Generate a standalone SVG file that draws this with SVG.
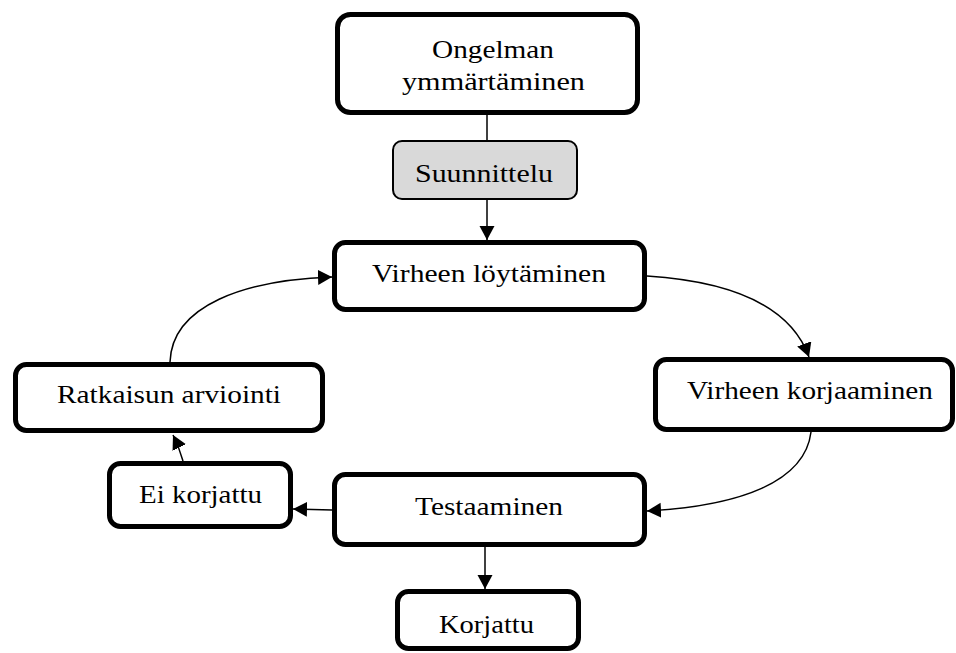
<svg xmlns="http://www.w3.org/2000/svg" width="956" height="653" viewBox="0 0 956 653">
<style>
.box{fill:#fff;stroke:#000;stroke-width:5}
.sub{fill:#d9d9d9;stroke:#000;stroke-width:2}
.t{font-family:"Liberation Serif","Times New Roman",serif;font-size:26px;fill:#000;text-anchor:middle}
.c{fill:none;stroke:#000;stroke-width:1.5}
</style>
<defs>
<marker id="ah" markerUnits="userSpaceOnUse" markerWidth="16" markerHeight="16" refX="14" refY="7.5" orient="auto">
<path d="M0,0 L14,7.5 L0,15 z" fill="#000"/>
</marker>
</defs>
<rect width="956" height="653" fill="#fff"/>
<g id="connectors">
<line class="c" x1="487" y1="115" x2="487" y2="140"/>
<line class="c" x1="487" y1="200" x2="487" y2="240" marker-end="url(#ah)"/>
<path class="c" d="M647,276 C740,282 792,310 809,357" marker-end="url(#ah)"/>
<path class="c" d="M811,432 C805,482 740,506 647,511" marker-end="url(#ah)"/>
<path class="c" d="M332,510 L293,509" marker-end="url(#ah)"/>
<path class="c" d="M183,461 Q179,447 173,435" marker-end="url(#ah)"/>
<path class="c" d="M170,362 C172,305 245,280 332,277" marker-end="url(#ah)"/>
<line class="c" x1="485" y1="547" x2="485" y2="589" marker-end="url(#ah)"/>
</g>
<g id="n1">
<rect class="box" x="337.5" y="14.5" width="300" height="98" rx="13"/>
<text class="t" x="493" y="58" textLength="122" lengthAdjust="spacingAndGlyphs">Ongelman</text>
<text class="t" x="493.5" y="90" textLength="183" lengthAdjust="spacingAndGlyphs">ymmärtäminen</text>
</g>
<g id="n2">
<rect class="sub" x="393" y="141" width="184" height="58" rx="9"/>
<text class="t" x="484" y="182" textLength="138" lengthAdjust="spacingAndGlyphs">Suunnittelu</text>
</g>
<g id="n3">
<rect class="box" x="334.5" y="242.5" width="310" height="67" rx="11"/>
<text class="t" x="489" y="282" textLength="234" lengthAdjust="spacingAndGlyphs">Virheen löytäminen</text>
</g>
<g id="n4">
<rect class="box" x="655.5" y="359.5" width="297" height="70" rx="11"/>
<text class="t" x="810" y="399" textLength="246" lengthAdjust="spacingAndGlyphs">Virheen korjaaminen</text>
</g>
<g id="n5">
<rect class="box" x="15.5" y="364.5" width="307" height="66" rx="11"/>
<text class="t" x="169" y="403" textLength="224" lengthAdjust="spacingAndGlyphs">Ratkaisun arviointi</text>
</g>
<g id="n6">
<rect class="box" x="109.5" y="463.5" width="181" height="63" rx="11"/>
<text class="t" x="200.5" y="503" textLength="123" lengthAdjust="spacingAndGlyphs">Ei korjattu</text>
</g>
<g id="n7">
<rect class="box" x="334.5" y="474.5" width="310" height="70" rx="11"/>
<text class="t" x="489" y="515" textLength="148" lengthAdjust="spacingAndGlyphs">Testaaminen</text>
</g>
<g id="n8">
<rect class="box" x="397.5" y="591.5" width="181" height="57" rx="11"/>
<text class="t" x="486.5" y="633" textLength="95" lengthAdjust="spacingAndGlyphs">Korjattu</text>
</g>
</svg>
